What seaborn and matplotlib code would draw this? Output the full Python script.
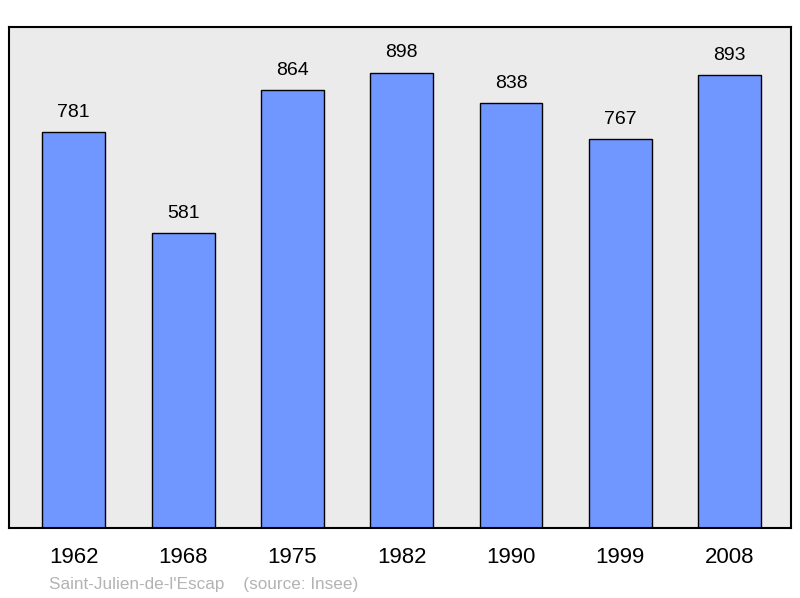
import pandas as pd
import matplotlib
matplotlib.use('Agg')
import matplotlib.pyplot as plt
import seaborn as sns

years = ['1962', '1968', '1975', '1982', '1990', '1999', '2008']
population = [781, 581, 864, 898, 838, 767, 893]
commune = "Saint-Julien-de-l'Escap"
source = '(source: Insee)'

df = pd.DataFrame({'annee': years, 'population': population})

sns.set_style('white')
plt.rcParams['font.family'] = ['Liberation Sans', 'DejaVu Sans']
plt.rcParams['text.color'] = 'black'
plt.rcParams['xtick.color'] = 'black'

fig = plt.figure(figsize=(8, 5.98), dpi=100)
ax = fig.add_axes([9 / 800, 70 / 598, 782 / 800, 501 / 598])
ax.set_facecolor('#ebebeb')

sns.barplot(df, x='annee', y='population', color='#7096ff', saturation=1,
            width=0.576, edgecolor='black', linewidth=1, ax=ax)

for i, v in enumerate(population):
    ax.text(i, v + 22, str(v), ha='center', va='bottom', fontsize=14, color='black')

ax.set_xlim(-0.593, 6.562)
ax.set_ylim(0, 988)
ax.set_yticks([])
ax.set_xlabel('')
ax.set_ylabel('')
ax.tick_params(axis='x', length=0, pad=14, labelsize=16, labelcolor='black')
for s in ax.spines.values():
    s.set_visible(True)
    s.set_color('black')
    s.set_linewidth(1.5)

fig.text(49 / 800, 1 - 584 / 598, commune + '    ' + source,
         color='#b3b3b3', fontsize=12.3, va='center', ha='left')

fig.savefig('out.png', dpi=100)
